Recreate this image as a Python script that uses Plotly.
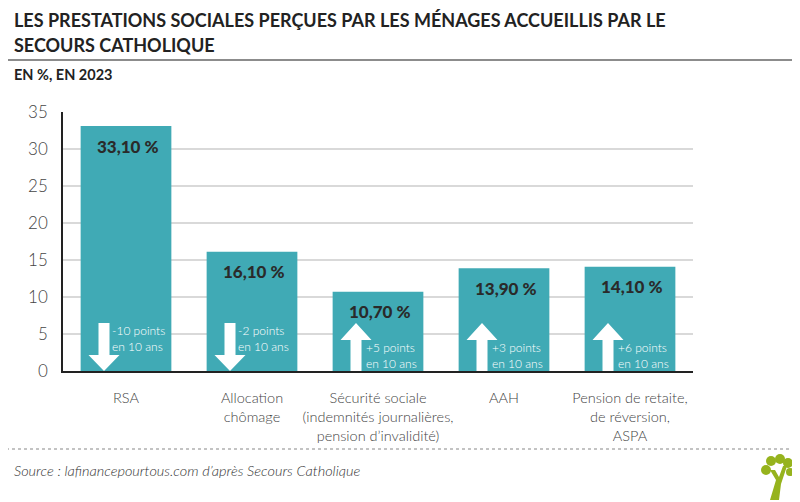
import plotly.graph_objects as go

categories = ["RSA", "Allocation<br>chômage",
              "Sécurité sociale<br>(indemnités journalières,<br>pension d’invalidité)",
              "AAH", "Pension de retaite,<br>de réversion,<br>ASPA"]
values = [33.1, 16.1, 10.7, 13.9, 14.1]
changes = [-10, -2, 5, 3, 6]
y_ticks = [0, 5, 10, 15, 20, 25, 30, 35]

BAR = "#40aab5"
OFF = 8                      # page body margin offset
W, H = 800, 502
# target plot area in window pixels
X0, X1, Y0, Y1 = 63, 693, 112, 371
L, T = X0 - OFF, Y0 - OFF
R, B = W - (X1 - OFF), H - (Y1 - OFF)
PW, PH = X1 - X0, Y1 - Y0
YMAX = 35.0

def px_x(p):   # pixels -> category units
    return p / (PW / len(categories))
def px_y(p):   # pixels -> data units
    return p * YMAX / PH
def xp(x):     # window px -> paper
    return (x - X0) / PW
def yp(y):
    return (Y1 - y) / PH

def fmt(v):
    return f"{v:.2f}".replace(".", ",") + " %"

xs = list(range(len(categories)))
fig = go.Figure()
fig.add_trace(go.Bar(x=xs, y=values, marker=dict(color=BAR, line=dict(width=0)),
                     width=0.72, hoverinfo="skip"))

shapes = []
annotations = []
for i, (v, c) in enumerate(zip(values, changes)):
    annotations.append(dict(x=i, y=v, xref="x", yref="y", text=fmt(v), showarrow=False,
                            yshift=-20, xshift=2,
                            font=dict(family="Lato", size=17, color="#2a2a2a", weight=900)))
    cx = i - px_x(22)
    sw = px_x(5.5)
    hw = px_x(15.5)
    top = px_y(48)
    if c < 0:
        hb = px_y(16)
        path = (f"M {cx-sw},{top} L {cx+sw},{top} L {cx+sw},{hb} L {cx+hw},{hb} "
                f"L {cx},0 L {cx-hw},{hb} L {cx-sw},{hb} Z")
        ty = px_y(371 - 338)
        tx = cx + px_x(9)
    else:
        hb = px_y(31)
        path = (f"M {cx-sw},0 L {cx+sw},0 L {cx+sw},{hb} L {cx+hw},{hb} "
                f"L {cx},{top} L {cx-hw},{hb} L {cx-sw},{hb} Z")
        ty = px_y(371 - 355)
        tx = cx + px_x(10.5)
    shapes.append(dict(type="path", path=path, xref="x", yref="y",
                       fillcolor="white", line=dict(width=0), layer="above"))
    sign = "+" if c > 0 else "-"
    annotations.append(dict(x=tx, y=ty, xref="x", yref="y",
                            text=f"{sign}{abs(c)} points<br>en 10 ans",
                            showarrow=False, xanchor="left", yanchor="middle", align="left",
                            xshift=-2, borderpad=0,
                            font=dict(family="Lato", size=12, color="white", weight=300)))

# header / footer lines
shapes.append(dict(type="line", xref="paper", yref="paper",
                   x0=xp(0), x1=xp(800), y0=yp(60), y1=yp(60),
                   line=dict(color="#666666", width=1.5)))
shapes.append(dict(type="line", xref="paper", yref="paper",
                   x0=xp(0), x1=xp(800), y0=yp(449), y1=yp(449),
                   line=dict(color="#888888", width=1.2, dash="dot")))

# logo (simple tree)
def pp(x, y):
    return f"{xp(x)},{yp(y)}"
green = "#96b31d"
trunk = (f"M {pp(770,500)} L {pp(776,480)} L {pp(770,470)} L {pp(775,470)} L {pp(779,477)} "
         f"L {pp(783,466)} L {pp(787,466)} L {pp(781,484)} L {pp(779,500)} Z")
shapes.append(dict(type="path", path=trunk, xref="paper", yref="paper",
                   fillcolor=green, line=dict(width=0)))
for (cxp, cyp, r) in [(766, 470, 5), (771, 461, 5), (780, 459, 5), (788, 463, 5), (790, 472, 4)]:
    shapes.append(dict(type="circle", xref="paper", yref="paper",
                       x0=xp(cxp - r), x1=xp(cxp + r),
                       y0=yp(cyp + r), y1=yp(cyp - r),
                       fillcolor=green, line=dict(width=0)))

TF = "Lato"
annotations += [
    dict(x=xp(12), y=yp(20), xref="paper", yref="paper", xanchor="left", yanchor="middle",
         text="LES PRESTATIONS SOCIALES PERÇUES PAR LES MÉNAGES ACCUEILLIS PAR LE",
         showarrow=False, font=dict(family=TF, size=18, color="#222222", weight=700)),
    dict(x=xp(12), y=yp(45), xref="paper", yref="paper", xanchor="left", yanchor="middle",
         text="SECOURS CATHOLIQUE",
         showarrow=False, font=dict(family=TF, size=18, color="#222222", weight=700)),
    dict(x=xp(12), y=yp(74), xref="paper", yref="paper", xanchor="left", yanchor="middle",
         text="EN %, EN 2023",
         showarrow=False, font=dict(family=TF, size=14.5, color="#222222", weight=700)),
    dict(x=xp(12), y=yp(470), xref="paper", yref="paper", xanchor="left", yanchor="middle",
         text="<i>Source : lafinancepourtous.com d’après Secours Catholique</i>",
         showarrow=False, font=dict(family="Lato", size=14.5, color="#333333", weight=300)),
]

fig.update_layout(
    width=W, height=H, margin=dict(l=L, r=R, t=T, b=B, pad=0),
    paper_bgcolor="white", plot_bgcolor="white", showlegend=False,
    shapes=shapes, annotations=annotations,
    xaxis=dict(tickmode="array", tickvals=xs, ticktext=categories, range=[-0.5, 4.5],
               showgrid=False, showline=True, linecolor="#222222", linewidth=1.5,
               ticks="", ticklabelstandoff=13,
               tickfont=dict(family="Lato", size=14.5, color="#444444", weight=300),
               fixedrange=True),
    yaxis=dict(range=[0, YMAX], tickmode="array", tickvals=y_ticks,
               showgrid=True, gridcolor="#d9d9d9", gridwidth=1.5,
               showline=True, linecolor="#222222", linewidth=1.5, zeroline=False,
               ticks="", ticklabelstandoff=10,
               tickfont=dict(family="Lato", size=17, color="#444444", weight=300),
               fixedrange=True),
)
fig.write_html("out.html")
